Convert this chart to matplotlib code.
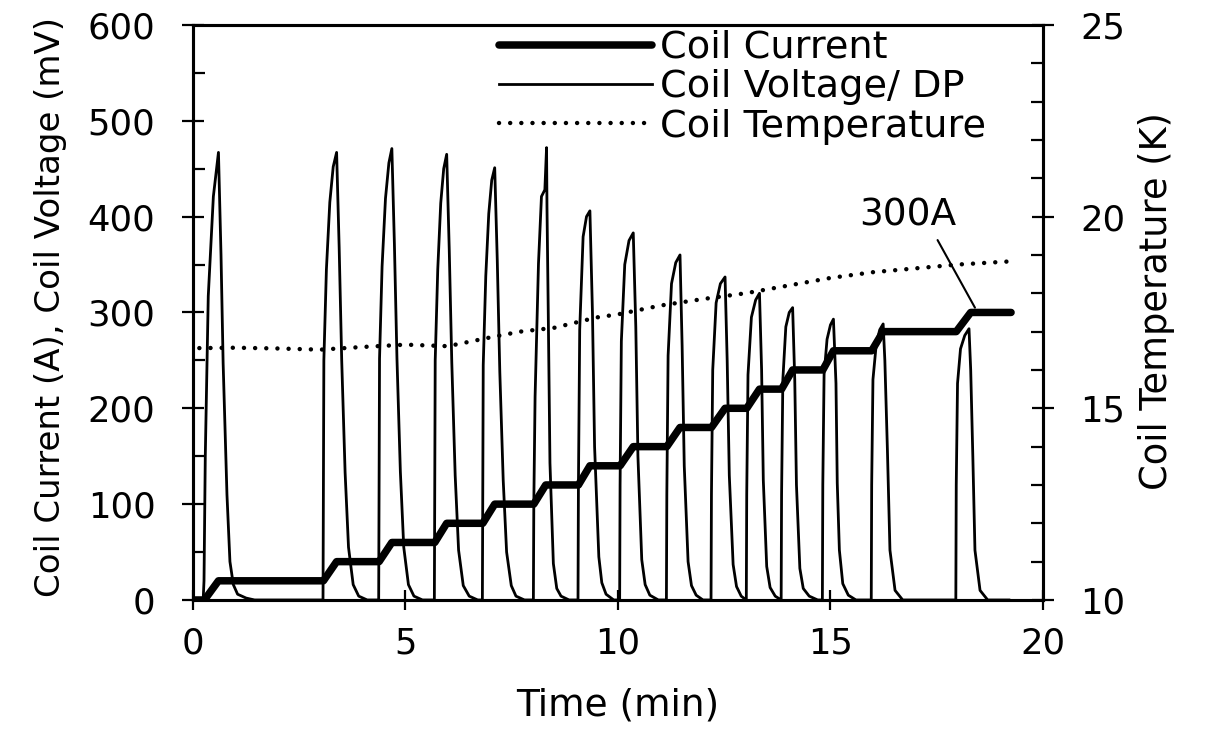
import numpy as np
import matplotlib
matplotlib.use("Agg")
import matplotlib.pyplot as plt
from matplotlib.ticker import MultipleLocator

# the reference text is a stretched Arial; DejaVu Sans matches its widths and heights best
plt.rcParams['font.family'] = ['DejaVu Sans']

# coil current (A) vs time (min): 20 A ramps, each followed by a hold
current_t = [0, 0.27, 0.6, 3.07, 3.38, 4.38, 4.68, 5.69, 5.97, 6.82, 7.1, 8.02, 8.3,
             9.07, 9.34, 10.05, 10.36, 11.15, 11.46, 12.2, 12.52, 13.03, 13.33, 13.85,
             14.11, 14.82, 15.07, 15.97, 16.24, 17.96, 18.3, 19.25]
current_a = [0, 0, 20, 20, 40, 40, 60, 60, 80, 80, 100, 100, 120, 120, 140, 140, 160,
             160, 180, 180, 200, 200, 220, 220, 240, 240, 260, 260, 280, 280, 300, 300]

# coil voltage (mV): one pulse per current ramp
pulse_t = [
    [0.24, 0.26, 0.29, 0.36, 0.48, 0.60, 0.66, 0.71, 0.80, 0.87, 0.95, 1.05, 1.25, 1.45],
    [3.06, 3.07, 3.08, 3.14, 3.22, 3.30, 3.38, 3.44, 3.50, 3.58, 3.66, 3.77, 3.90, 4.10],
    [4.37, 4.38, 4.39, 4.45, 4.53, 4.61, 4.68, 4.74, 4.80, 4.88, 4.96, 5.07, 5.20, 5.40],
    [5.68, 5.69, 5.70, 5.76, 5.83, 5.90, 5.97, 6.03, 6.09, 6.17, 6.25, 6.36, 6.50, 6.70],
    [6.81, 6.82, 6.83, 6.89, 6.96, 7.03, 7.10, 7.16, 7.22, 7.30, 7.38, 7.49, 7.60, 7.80],
    [8.01, 8.02, 8.05, 8.13, 8.20, 8.28, 8.32, 8.33, 8.36, 8.40, 8.48, 8.56, 8.66, 8.85],
    [9.06, 9.07, 9.10, 9.18, 9.26, 9.34, 9.40, 9.45, 9.55, 9.62, 9.72, 9.90],
    [10.04, 10.05, 10.08, 10.16, 10.26, 10.36, 10.42, 10.47, 10.56, 10.64, 10.75, 10.95],
    [11.14, 11.15, 11.18, 11.26, 11.36, 11.46, 11.51, 11.56, 11.65, 11.73, 11.84, 12.0],
    [12.19, 12.20, 12.23, 12.31, 12.41, 12.52, 12.57, 12.62, 12.71, 12.79, 12.90, 13.02],
    [13.02, 13.03, 13.06, 13.14, 13.24, 13.33, 13.38, 13.42, 13.50, 13.58, 13.70, 13.84],
    [13.84, 13.85, 13.88, 13.95, 14.03, 14.11, 14.16, 14.20, 14.28, 14.36, 14.50, 14.70],
    [14.81, 14.82, 14.85, 14.92, 15.00, 15.07, 15.13, 15.16, 15.21, 15.29, 15.42, 15.60],
    [15.96, 15.97, 16.00, 16.08, 16.16, 16.24, 16.28, 16.34, 16.40, 16.52, 16.70],
    [17.95, 17.96, 17.99, 18.06, 18.16, 18.26, 18.30, 18.35, 18.40, 18.52, 18.70],
]
pulse_v = [
    [0, 20, 150, 317, 421, 467, 360, 247, 110, 40, 16, 6, 2, 0],
    [0, 120, 250, 345, 415, 452, 467, 368, 250, 133, 55, 16, 4, 0],
    [0, 120, 252, 348, 419, 456, 471, 371, 252, 134, 55, 16, 4, 0],
    [0, 120, 250, 345, 414, 450, 465, 366, 248, 130, 52, 15, 4, 0],
    [0, 120, 245, 338, 403, 438, 451, 355, 238, 125, 50, 15, 4, 0],
    [0, 100, 212, 351, 421, 428, 472, 410, 300, 143, 38, 12, 4, 0],
    [0, 120, 282, 379, 400, 406, 300, 160, 45, 18, 6, 0],
    [0, 120, 270, 350, 375, 383, 285, 150, 42, 16, 5, 0],
    [0, 110, 255, 330, 352, 360, 265, 140, 40, 15, 5, 0],
    [0, 110, 240, 310, 330, 337, 250, 130, 37, 14, 4, 0],
    [0, 110, 235, 295, 313, 320, 240, 125, 35, 13, 4, 0],
    [0, 110, 230, 285, 300, 305, 230, 120, 33, 12, 4, 0],
    [0, 120, 235, 272, 287, 293, 226, 122, 52, 17, 5, 0],
    [0, 120, 230, 268, 282, 288, 250, 157, 52, 10, 0],
    [0, 120, 226, 262, 276, 283, 240, 150, 52, 10, 0],
]
voltage_end = 19.2

# coil temperature (K), right axis
temp_t = [0.15, 1, 2, 3, 4, 5, 6, 7, 7.7, 8.5, 9.5, 10, 11, 12, 13, 14, 15, 16, 17, 18, 19.2]
temp_k = [16.57, 16.58, 16.56, 16.53, 16.6, 16.66, 16.62, 16.85, 17.0, 17.1, 17.37, 17.45,
          17.68, 17.85, 18.0, 18.2, 18.4, 18.55, 18.65, 18.75, 18.83]

volt_t = [0.0]
volt_v = [0.0]
for pt, pv in zip(pulse_t, pulse_v):
    volt_t += pt
    volt_v += pv
volt_t.append(voltage_end)
volt_v.append(0.0)

fig = plt.figure(figsize=(12.06, 7.29), dpi=100)
ax = fig.add_axes([0.1600, 0.1770, 0.7048, 0.7888])
ax2 = ax.twinx()

l1, = ax.plot(current_t, current_a, color='black', lw=5.4, solid_capstyle='round',
              solid_joinstyle='round', label='Coil Current', zorder=3)
l2, = ax.plot(volt_t, volt_v, color='black', lw=2.0, label='Coil Voltage/ DP', zorder=2,
              solid_joinstyle='round')
l3, = ax2.plot(temp_t, temp_k, color='black', lw=3.2, linestyle=(0, (0.01, 2.5)),
               dash_capstyle='round', label='Coil Temperature')

ax.set_xlim(0, 20)
ax.set_ylim(0, 600)
ax2.set_ylim(10, 25)

ax.xaxis.set_major_locator(MultipleLocator(5))
ax.yaxis.set_major_locator(MultipleLocator(100))
ax.yaxis.set_minor_locator(MultipleLocator(50))
ax2.yaxis.set_major_locator(MultipleLocator(5))
ax2.yaxis.set_minor_locator(MultipleLocator(1))

for a in (ax, ax2):
    for s in a.spines.values():
        s.set_linewidth(2.2)
    a.tick_params(which='major', direction='inout', length=16, width=1.6, labelsize=25.5, pad=19)
    a.tick_params(which='minor', direction='in', length=8.5, width=1.6)
ax.tick_params(axis='x', which='major', length=14, pad=12)
ax.tick_params(top=False, right=False)
ax2.tick_params(top=False, left=False)

ax.set_xlabel('Time (min)', fontsize=27)
ax.set_ylabel('Coil Current (A), Coil Voltage (mV)', fontsize=24.5)
ax2.set_ylabel('Coil Temperature (K)', fontsize=26.5)
ax.xaxis.set_label_coords(0.5, -0.152)
ax.yaxis.set_label_coords(-0.148, 0.51)
ax2.yaxis.set_label_coords(1.112, 0.52)

ax.annotate('300A', xy=(18.4, 305), xytext=(16.82, 401), ha='center', va='center',
            fontsize=27, arrowprops=dict(arrowstyle='-', lw=1.5, color='black',
                                         relpos=(0.77, 0.0), shrinkA=3, shrinkB=0))

ax2.legend(handles=[l1, l2, l3], loc='upper left', bbox_to_anchor=(0.356, 0.998),
           frameon=False, fontsize=27.5, handlelength=4.0, handletextpad=0.21,
           labelspacing=0.09, borderpad=0.1, borderaxespad=0)

fig.savefig('out.png', dpi=100)
